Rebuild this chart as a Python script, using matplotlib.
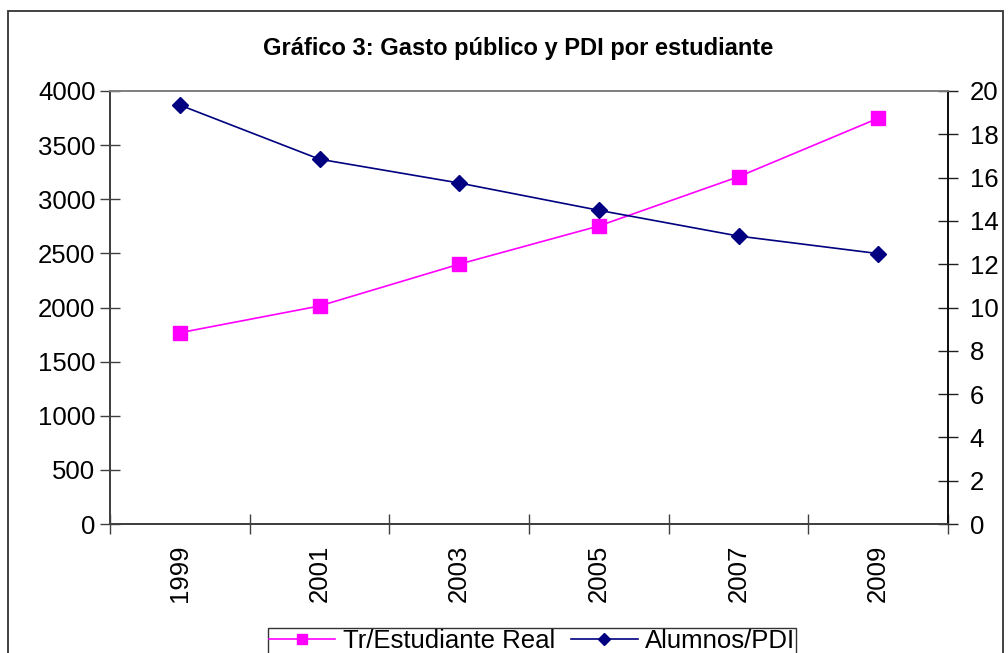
import matplotlib
matplotlib.use("Agg")
import matplotlib.pyplot as plt
from matplotlib.patches import Rectangle

years = ["1999", "2001", "2003", "2005", "2007", "2009"]
gasto = [1767, 2014, 2400, 2753, 3208, 3748]
alumnos_pdi = [19.35, 16.85, 15.75, 14.49, 13.30, 12.49]
left_ticks = [0, 500, 1000, 1500, 2000, 2500, 3000, 3500, 4000]
right_ticks = [0, 2, 4, 6, 8, 10, 12, 14, 16, 18, 20]

plt.rcParams['font.family'] = ['Liberation Sans', 'DejaVu Sans']

W, H = 1008, 653
fig = plt.figure(figsize=(W / 100, H / 100), dpi=100)
fig.patch.set_facecolor('white')

# outer chart frame
fig.add_artist(Rectangle((8 / W, 1 - 700 / H), (1003 - 8) / W, (700 - 11) / H,
                         transform=fig.transFigure, fill=False,
                         edgecolor='#333333', linewidth=1.3))

ax = fig.add_axes([110 / W, 1 - 524 / H, (948 - 110) / W, (524 - 91) / H])
ax2 = ax.twinx()

x = list(range(len(years)))
pink = '#FF00FF'
navy = '#000080'

l1, = ax.plot(x, gasto, color=pink, marker='s', markersize=10, linewidth=1.2,
              label='Tr/Estudiante Real')
l2, = ax2.plot(x, alumnos_pdi, color=navy, marker='D', markersize=8.5, linewidth=1.2,
               label='Alumnos/PDI')

ax.set_xlim(-0.5, len(years) - 0.5)
ax.set_ylim(0, 4000)
ax2.set_ylim(0, 20)
ax.set_yticks(left_ticks)
ax2.set_yticks(right_ticks)

FS = 18.5
ax.set_xticks([i - 0.5 for i in range(len(years) + 1)])
ax.set_xticklabels([])
ax.set_xticks(x, minor=True)
ax.set_xticklabels(years, minor=True, rotation=90, fontsize=FS)
ax.tick_params(axis='x', which='minor', length=0, pad=15)
ax.tick_params(axis='x', which='major', direction='inout', length=15, width=1, color='#404040')
ax.tick_params(axis='y', direction='inout', length=15, width=1, color='#404040',
               labelsize=FS, pad=3)
ax2.tick_params(axis='y', direction='inout', length=15, width=1, color='#202020',
                labelsize=FS, pad=8)

for a in (ax, ax2):
    a.spines['top'].set_color('#808080')
    a.spines['left'].set_color('#404040')
    a.spines['bottom'].set_color('#404040')
    a.spines['right'].set_color('#101010')
    for s in a.spines.values():
        s.set_linewidth(1.3)

fig.text(518 / W, 1 - 48 / H, 'Gráfico 3: Gasto público y PDI por estudiante',
         ha='center', va='center', fontsize=17, fontweight='bold')

leg = fig.legend(handles=[l1, l2], loc='upper center',
                 bbox_to_anchor=(532 / W, 1 - 628 / H), ncol=2, frameon=True,
                 fancybox=False, fontsize=FS, handlelength=2.6, columnspacing=0.6,
                 handletextpad=0.3, borderpad=0.04, edgecolor='#000000',
                 markerscale=0.75, borderaxespad=0)
leg.get_frame().set_linewidth(1.0)

fig.savefig('out.png', dpi=100, facecolor='white')
